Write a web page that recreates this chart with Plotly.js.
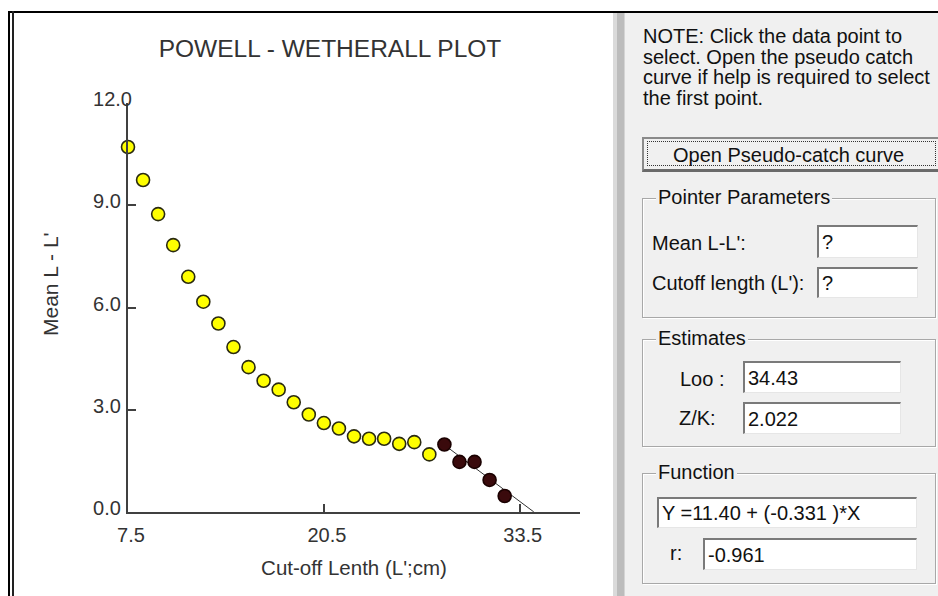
<!DOCTYPE html>
<html><head><meta charset="utf-8">
<script src="https://cdn.plot.ly/plotly-3.0.1.min.js"></script>
<style>
body{margin:0;width:938px;height:596px;overflow:hidden;background:#fff;font-family:"Liberation Sans",Arial,sans-serif;}
#plot{position:absolute;left:0;top:0;width:938px;height:596px;z-index:1;}
.abs{position:absolute;z-index:2;}
.t{position:absolute;z-index:3;font-size:20px;line-height:22px;color:#111;white-space:nowrap;}
.box{position:absolute;z-index:3;border:1px solid #a8a8a8;box-shadow:inset 1px 1px 0 #fff,1px 1px 0 #fff;box-sizing:border-box;}
.lbl{position:absolute;z-index:4;font-size:20px;line-height:22px;background:#f0f0f0;padding:0 2px;color:#111;white-space:nowrap;}
.tb{position:absolute;z-index:4;background:#fff;border-top:2px solid #7a7a7a;border-left:2px solid #7a7a7a;border-right:1px solid #e6e6e6;border-bottom:1px solid #e6e6e6;box-sizing:border-box;font-size:20px;line-height:22px;padding-left:3px;color:#111;white-space:nowrap;display:flex;align-items:center;overflow:hidden;}
</style></head>
<body>
<div id="plot"></div>
<!-- window chrome -->
<div class="abs" style="left:8px;top:11px;width:930px;height:2px;background:#000;"></div>
<div class="abs" style="left:8px;top:11px;width:2px;height:585px;background:#000;"></div>
<div class="abs" style="left:12px;top:11px;width:2px;height:585px;background:#222;"></div>
<div class="abs" style="left:613px;top:13px;width:12px;height:583px;background:linear-gradient(to right,#dadada 0 4px,#bcbcbc 4px 11px,#d4d4d4 11px);"></div>
<div class="abs" style="left:625px;top:13px;width:313px;height:583px;background:#f0f0f0;"></div>

<div class="t" style="left:643px;top:26px;line-height:20.5px;">NOTE: Click the data point to<br>select. Open the pseudo catch<br>curve if help is required to select<br>the first point.</div>

<div class="abs" style="z-index:3;left:642px;top:137px;width:300px;height:35px;box-sizing:border-box;background:#f0f0f0;border-top:2px solid #8a8a8a;border-left:2px solid #8a8a8a;border-bottom:3px solid #6a6a6a;"></div>
<div class="abs" style="z-index:4;left:647px;top:141px;width:289px;height:25px;border:1px dotted #333;box-sizing:border-box;"></div>
<div class="t" style="left:673px;top:144px;z-index:5;">Open Pseudo-catch curve</div>

<div class="box" style="left:642px;top:198px;width:294px;height:120px;"></div>
<div class="lbl" style="left:656px;top:186px;">Pointer Parameters</div>
<div class="t" style="left:652px;top:232px;">Mean L-L':</div>
<div class="tb" style="left:817px;top:225px;width:101px;height:33px;">?</div>
<div class="t" style="left:652px;top:272px;">Cutoff length (L'):</div>
<div class="tb" style="left:817px;top:267px;width:101px;height:31px;">?</div>

<div class="box" style="left:642px;top:339px;width:294px;height:108px;"></div>
<div class="lbl" style="left:656px;top:327px;">Estimates</div>
<div class="t" style="left:680px;top:368px;">Loo :</div>
<div class="tb" style="left:743px;top:361px;width:158px;height:32px;">34.43</div>
<div class="t" style="left:679px;top:407px;">Z/K:</div>
<div class="tb" style="left:743px;top:402px;width:158px;height:32px;">2.022</div>

<div class="box" style="left:642px;top:473px;width:294px;height:111px;"></div>
<div class="lbl" style="left:656px;top:461px;">Function</div>
<div class="tb" style="left:657px;top:497px;width:260px;height:31px;">Y =11.40 + (-0.331 )*X</div>
<div class="t" style="left:670px;top:542px;">r:</div>
<div class="tb" style="left:703px;top:538px;width:214px;height:32px;">-0.961</div>

<script>
// Cut-off length L' (cm) and mean L - L'
const cutoffAll = [7.5, 8.5, 9.5, 10.5, 11.5, 12.5, 13.5, 14.5, 15.5, 16.5, 17.5, 18.5, 19.5, 20.5, 21.5, 22.5, 23.5, 24.5, 25.5, 26.5, 27.5];
const meanAll   = [10.71, 9.74, 8.74, 7.83, 6.90, 6.17, 5.53, 4.84, 4.25, 3.85, 3.59, 3.22, 2.86, 2.61, 2.45, 2.22, 2.15, 2.15, 2.00, 2.05, 1.69];
// Selected points used for the regression
const cutoffSel = [28.5, 29.5, 30.5, 31.5, 32.5];
const meanSel   = [1.98, 1.47, 1.47, 0.94, 0.47];
// Regression: Y = 11.40 + (-0.331)*X, Loo = 34.43
const intercept = 11.40;
const slope = -0.331;
const fitX = [28.5, 34.43];
const fitY = fitX.map(x => intercept + slope * x);

const xTickVals = [7.5, 20.5, 33.5];
const xTickText = ['7.5', '20.5', '33.5'];
const yTickVals = [0, 3, 6, 9, 12];
const yTickText = ['0.0\u2007', '3.0\u2007', '6.0\u2007', '9.0\u2007', '12.0'];

const FONT = '"Liberation Sans", Arial, sans-serif';
const AX = '#404040';

const traces = [
  {x: fitX, y: fitY, mode: 'lines', line: {color: '#333', width: 1}, hoverinfo: 'skip', cliponaxis: false},
  {x: cutoffAll, y: meanAll, mode: 'markers', cliponaxis: false,
   marker: {symbol: 'circle', size: 13, color: '#ffff00', line: {color: '#2a2a10', width: 1.6}}},
  {x: cutoffSel, y: meanSel, mode: 'markers', cliponaxis: false,
   marker: {symbol: 'circle', size: 13, color: '#3a0a0c', line: {color: '#1a0000', width: 1.6}}}
];

const layout = {
  width: 938, height: 596,
  margin: {l: 128, r: 358, t: 103, b: 84},
  paper_bgcolor: '#ffffff', plot_bgcolor: '#ffffff',
  showlegend: false,
  font: {family: FONT, color: '#333', size: 20},
  title: {text: 'POWELL - WETHERALL PLOT', font: {family: FONT, size: 24.5, color: '#333'},
          x: 330/938, xanchor: 'center', y: 1 - 48/596, yanchor: 'middle'},
  xaxis: {range: [7.5, 37.5], tickvals: xTickVals, ticktext: xTickText,
          ticks: 'inside', ticklen: 8, tickwidth: 2, tickcolor: AX,
          showline: true, linecolor: AX, linewidth: 2, showgrid: false, zeroline: false,
          tickfont: {family: FONT, size: 20, color: '#333'}, ticklabelshift: 3, ticklabelstandoff: 4,
          title: {text: "Cut-off Lenth (L';cm)", font: {family: FONT, size: 20.5, color: '#333'}, standoff: 16}},
  yaxis: {range: [0, 12], tickvals: yTickVals, ticktext: yTickText,
          ticks: 'inside', ticklen: 8, tickwidth: 2, tickcolor: AX,
          showline: true, linecolor: AX, linewidth: 2, showgrid: false, zeroline: false,
          tickfont: {family: FONT, size: 20, color: '#333'}, ticklabelshift: -4, ticklabelstandoff: -10},
  annotations: [{text: "Mean L - L'", textangle: -90, xref: 'paper', yref: 'paper',
                 x: (50 - 128) / 452, y: (512 - 284) / 409, xanchor: 'center', yanchor: 'middle',
                 showarrow: false, font: {family: FONT, size: 21, color: '#333'}}]
};

Plotly.newPlot('plot', traces, layout, {staticPlot: true, displayModeBar: false});
</script>
</body></html>
